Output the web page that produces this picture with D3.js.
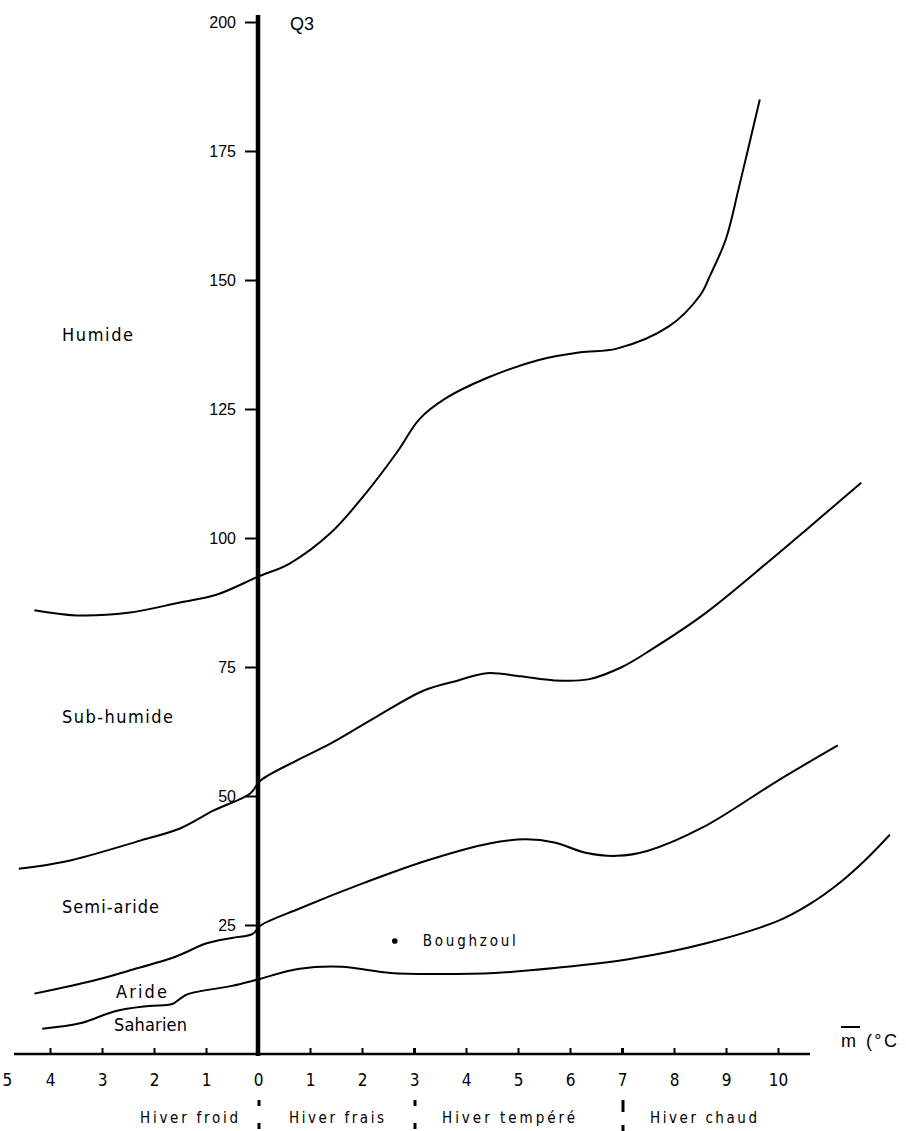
<!DOCTYPE html>
<html><head><meta charset="utf-8">
<script src="https://cdn.jsdelivr.net/npm/d3@7"></script>
<style>
html,body{margin:0;padding:0;background:#fff;}
svg{display:block;}
</style></head>
<body>
<svg id="chart" width="906" height="1131"></svg>
<script>
// ---- Data ----
// Limit Humide / Sub-humide
const limHumideM = [-4.3, -3.5, -2.5, -1.5, -0.8, 0, 0.6, 1.4, 2.1, 2.7, 3.1, 3.6, 4.4, 5.4, 6.2, 6.9, 7.9, 8.5, 8.7, 9.0, 9.25, 9.65];
const limHumideQ = [86, 85, 85.5, 87.5, 89, 92.5, 95, 101, 109, 117, 123, 127, 131, 134.5, 136, 136.7, 141, 147, 151, 158, 168, 185];
// Limit Sub-humide / Semi-aride
const limSubHumM = [-4.6, -3.7, -2.25, -1.5, -0.85, -0.15, 0.05, 0.75, 1.4, 2.3, 3.2, 3.85, 4.4, 5.05, 5.7, 6.35, 7.0, 7.6, 8.6, 9.85, 10.6, 11.6];
const limSubHumQ = [35.9, 37.3, 41.4, 43.7, 47.2, 50.5, 53, 56.9, 60.2, 65.5, 70.5, 72.4, 73.8, 73.2, 72.4, 72.6, 75, 78.6, 85.4, 95.7, 102.1, 110.7];
// Limit Semi-aride / Aride
const limSemiM = [-4.3, -3.1, -2.5, -1.6, -1.0, -0.5, -0.1, 0.05, 0.8, 2.05, 3.25, 4.45, 5.15, 5.7, 6.3, 6.9, 7.5, 8.55, 10.0, 11.15];
const limSemiQ = [11.7, 14.4, 16.1, 18.8, 21.4, 22.5, 23.3, 24.9, 28.2, 33.2, 37.5, 40.8, 41.6, 41.0, 39.0, 38.4, 39.4, 43.9, 53.0, 59.8];
// Limit Aride / Saharien
const limArideM = [-4.15, -3.4, -2.75, -2.1, -1.65, -1.5, -1.35, -0.5, -0.1, 0.05, 0.8, 1.6, 2.55, 3.45, 4.55, 5.75, 7.15, 8.6, 10.0, 10.6, 11.2, 11.7, 12.15];
const limArideQ = [4.9, 6.0, 8.3, 9.3, 9.7, 10.7, 11.6, 13.2, 14.2, 14.6, 16.5, 16.9, 15.7, 15.5, 15.7, 16.7, 18.4, 21.4, 25.8, 29.0, 33.3, 37.8, 42.5];
// Station
const stationName = ["Boughzoul"];
const stationM = [2.63];
const stationQ = [21.9];
// Axis ticks
const yTicks = [25, 50, 75, 100, 125, 150, 175, 200];
const xTicks = [-5, -4, -3, -2, -1, 0, 1, 2, 3, 4, 5, 6, 7, 8, 9, 10];
// Bioclimatic zones
const zoneNames = ["Humide", "Sub-humide", "Semi-aride", "Aride", "Saharien"];
// Winter variants
const winterNames = ["Hiver froid", "Hiver frais", "Hiver tempéré", "Hiver chaud"];
const winterBounds = [0, 3, 7];

// ---- Drawing ----
const svg = d3.select("#chart");
const x = d3.scaleLinear().domain([0, 10]).range([258, 778]);
const y = d3.scaleLinear().domain([0, 200]).range([1054, 22]);
const FN = "'Liberation Sans Narrow','DejaVu Sans Condensed',sans-serif";
const FS = "'Liberation Sans','Arial',sans-serif";

// x axis line
svg.append("line").attr("x1", 14).attr("x2", 810).attr("y1", y(0)).attr("y2", y(0))
  .attr("stroke", "#000").attr("stroke-width", 2.5);

// x axis ticks + labels
const xAxis = d3.axisBottom(x).tickValues(xTicks).tickSizeInner(-6).tickSizeOuter(0)
  .tickPadding(20).tickFormat(d => Math.abs(d));
const gx = svg.append("g").attr("transform", `translate(0,${y(0)})`).call(xAxis);
gx.select(".domain").remove();
gx.selectAll(".tick line").attr("stroke", "#000").attr("stroke-width", d => (d === 3 || d === 7) ? 3 : 2)
  .attr("opacity", d => d < -4 ? 0 : 1);
gx.selectAll(".tick text").attr("font-family", FN).attr("font-size", 17).attr("fill", "#000")
  .attr("text-anchor", d => d < -4 ? "start" : "middle")
  .attr("dx", d => d < -4 ? 2 - x(d) : 0);

// y axis ticks + labels
const yAxis = d3.axisLeft(y).tickValues(yTicks).tickSizeInner(11).tickSizeOuter(0).tickPadding(9);
const gy = svg.append("g").attr("transform", `translate(${x(0) - 2},0)`).call(yAxis);
gy.select(".domain").remove();
gy.selectAll(".tick line").attr("stroke", "#000").attr("stroke-width", 2);
gy.selectAll(".tick text").attr("font-family", FS).attr("font-size", 16).attr("fill", "#000");

// thick vertical axis at m = 0
svg.append("line").attr("x1", x(0)).attr("x2", x(0)).attr("y1", 15).attr("y2", y(0) + 2)
  .attr("stroke", "#000").attr("stroke-width", 4.5);

// axis titles
svg.append("text").attr("x", 290).attr("y", 30).attr("font-family", FS).attr("font-size", 18).text("Q3");
svg.append("text").attr("x", 841).attr("y", 1047).attr("font-family", FS).attr("font-size", 18)
  .attr("textLength", 56).attr("lengthAdjust", "spacing").text("m (°C");
svg.append("line").attr("x1", 841).attr("x2", 860).attr("y1", 1027).attr("y2", 1027)
  .attr("stroke", "#000").attr("stroke-width", 2);

// limit curves
const line = d3.line().x(d => x(d[0])).y(d => y(d[1])).curve(d3.curveCatmullRom.alpha(0.5));
const curves = [
  [limHumideM, limHumideQ],
  [limSubHumM, limSubHumQ],
  [limSemiM, limSemiQ],
  [limArideM, limArideQ]
];
curves.forEach(([ms, qs]) => {
  const pts = ms.map((m, i) => [m, qs[i]]);
  svg.append("path").attr("d", line(pts)).attr("fill", "none")
    .attr("stroke", "#000").attr("stroke-width", 2);
});

// zone labels
const zonePos = [[62, 341, 71], [62, 723, 111], [62, 913, 97], [116, 998, 51], [114, 1031, 73]];
zoneNames.forEach((n, i) => {
  const [px, py, w] = zonePos[i];
  svg.append("text").attr("x", px).attr("y", py).attr("font-family", FN).attr("font-size", 18)
    .attr("textLength", w).attr("lengthAdjust", "spacing").text(n);
});

// station point
stationName.forEach((n, i) => {
  svg.append("circle").attr("cx", x(stationM[i])).attr("cy", y(stationQ[i])).attr("r", 2.8).attr("fill", "#000");
  svg.append("text").attr("x", x(stationM[i]) + 28).attr("y", y(stationQ[i]) + 5)
    .attr("font-family", FN).attr("font-size", 15).attr("textLength", 93).attr("lengthAdjust", "spacing").text(n);
});

// winter variant separators
winterBounds.forEach(b => {
  svg.append("line").attr("x1", x(b) + 1).attr("x2", x(b) + 1).attr("y1", 1100).attr("y2", 1131)
    .attr("stroke", "#000").attr("stroke-width", 3).attr("stroke-dasharray", b === 7 ? "12,13,6" : "6,17,6");
});
const winterPos = [[140, 98], [289, 95], [442, 133], [650, 107]];
winterNames.forEach((n, i) => {
  svg.append("text").attr("x", winterPos[i][0]).attr("y", 1123).attr("font-family", FN).attr("font-size", 15)
    .attr("textLength", winterPos[i][1]).attr("lengthAdjust", "spacing").text(n);
});
</script>
</body></html>
